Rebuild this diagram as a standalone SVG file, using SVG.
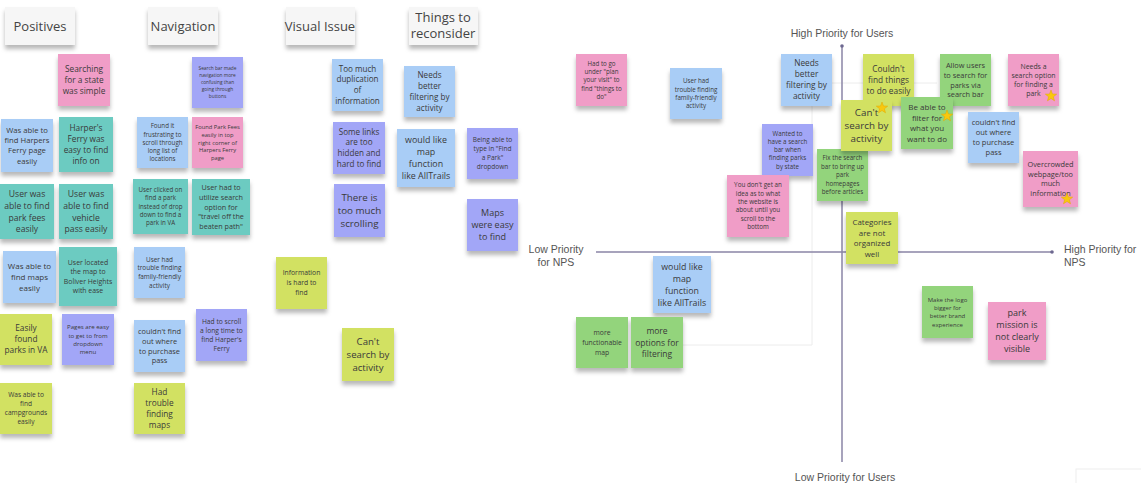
<svg xmlns="http://www.w3.org/2000/svg" xmlns:xlink="http://www.w3.org/1999/xlink" width="1141" height="483" viewBox="0 0 1141 483">
<defs>
<filter id="sh" x="-20%" y="-20%" width="140%" height="160%"><feDropShadow dx="0" dy="4" stdDeviation="2" flood-color="#000" flood-opacity="0.28"/></filter>
<path id="star" d="M0,-6 L1.47,-2.02 L5.71,-1.85 L2.38,0.77 L3.53,4.85 L0,2.5 L-3.53,4.85 L-2.38,0.77 L-5.71,-1.85 L-1.47,-2.02 Z"/>
<style>
.n{filter:url(#sh)}
.pk{fill:#f09dc7}.bl{fill:#a9cdf6}.tl{fill:#6ccbc1}.yg{fill:#d2e162}.pu{fill:#a2a6f7}.gr{fill:#93d47c}
.hd{fill:#f6f6f6;filter:url(#sh)}
.t{font-family:'Open Sans','DejaVu Sans',sans-serif;fill:#3a3a3a;text-anchor:middle}
.h{font-family:'Open Sans','DejaVu Sans',sans-serif;fill:#444;font-size:13px;text-anchor:middle}
.ax{font-family:'Liberation Sans',Arial,sans-serif;fill:#555;font-size:10.5px}
.axis{stroke:#8a85a6;stroke-width:1.5;fill:none}
.faint{stroke:#ececec;stroke-width:1;fill:none}
.st{fill:#f9c80e;stroke:#e0a800;stroke-width:0.5}
</style>
</defs>
<rect width="1141" height="483" fill="#ffffff"/>

<g id="frames">
<path class="faint" d="M812,83 L937,83 M812,83 L812,345 L683,345"/>
</g>

<g id="connectors">
<line class="axis" x1="842" y1="46" x2="842" y2="462"/>
<line class="axis" x1="596" y1="252" x2="1052" y2="252"/>
<circle cx="842" cy="46" r="1.8" fill="#6d6890"/>
<circle cx="1052" cy="252" r="1.8" fill="#6d6890"/>
</g>

<g id="labels">
<text class="ax" x="842" y="37" text-anchor="middle">High Priority for Users</text>
<text class="ax" x="845" y="481" text-anchor="middle">Low Priority for Users</text>
<text class="ax" x="556" y="253" text-anchor="middle">Low Priority</text>
<text class="ax" x="556" y="266" text-anchor="middle">for NPS</text>
<text class="ax" x="1064" y="253">High Priority for</text>
<text class="ax" x="1064" y="266">NPS</text>
</g>

<g id="hdr-positives"><rect class="hd" x="5" y="7" width="70" height="38"/><text class="h" x="40" y="31">Positives</text></g>
<g id="hdr-navigation"><rect class="hd" x="148" y="7" width="70" height="38"/><text class="h" x="183" y="31">Navigation</text></g>
<g id="hdr-visual"><rect class="hd" x="286" y="7" width="69" height="38"/><text class="h" x="320" y="31">Visual Issue</text></g>
<g id="hdr-things"><rect class="hd" x="409" y="7" width="69" height="38"/><text class="h" x="443" y="22">Things to</text><text class="h" x="443" y="38">reconsider</text></g>

<!-- Positives -->
<g id="p1" transform="translate(58,54)"><rect class="n pk" width="52" height="52"/><text class="t" font-size="8.3" y="18.2"><tspan x="26">Searching</tspan><tspan x="26" dy="11">for a state</tspan><tspan x="26" dy="11">was simple</tspan></text></g>
<g id="p2" transform="translate(1,119)"><rect class="n bl" width="52" height="53"/><text class="t" font-size="7.7" y="13.8"><tspan x="26">Was able to</tspan><tspan x="26" dy="10.3">find Harpers</tspan><tspan x="26" dy="10.3">Ferry page</tspan><tspan x="26" dy="10.3">easily</tspan></text></g>
<g id="p3" transform="translate(59,117)"><rect class="n tl" width="54" height="55"/><text class="t" font-size="8.3" y="14.2"><tspan x="27">Harper's</tspan><tspan x="27" dy="11">Ferry was</tspan><tspan x="27" dy="11">easy to find</tspan><tspan x="27" dy="11">info on</tspan></text></g>
<g id="p4" transform="translate(0,184)"><rect class="n tl" width="54" height="55"/><text class="t" font-size="8.6" y="13.2"><tspan x="27">User was</tspan><tspan x="27" dy="11.7">able to find</tspan><tspan x="27" dy="11.7">park fees</tspan><tspan x="27" dy="11.7">easily</tspan></text></g>
<g id="p5" transform="translate(59,184)"><rect class="n tl" width="54" height="55"/><text class="t" font-size="8.6" y="13.2"><tspan x="27">User was</tspan><tspan x="27" dy="11.7">able to find</tspan><tspan x="27" dy="11.7">vehicle</tspan><tspan x="27" dy="11.7">pass easily</tspan></text></g>
<g id="p6" transform="translate(3,251)"><rect class="n bl" width="53" height="52"/><text class="t" font-size="8" y="18.2"><tspan x="26.5">Was able to</tspan><tspan x="26.5" dy="10.7">find maps</tspan><tspan x="26.5" dy="10.7">easily</tspan></text></g>
<g id="p7" transform="translate(59,247)"><rect class="n tl" width="58" height="59"/><text class="t" font-size="6.9" y="18.2"><tspan x="29">User located</tspan><tspan x="29" dy="9.2">the map to</tspan><tspan x="29" dy="9.2">Boliver Heights</tspan><tspan x="29" dy="9.2">with ease</tspan></text></g>
<g id="p8" transform="translate(0,314)"><rect class="n yg" width="52" height="51"/><text class="t" font-size="8.3" y="17.4"><tspan x="26">Easily</tspan><tspan x="26" dy="11">found</tspan><tspan x="26" dy="11">parks in VA</tspan></text></g>
<g id="p9" transform="translate(62,314)"><rect class="n pu" width="52" height="51"/><text class="t" font-size="6.1" y="15.2"><tspan x="26">Pages are easy</tspan><tspan x="26" dy="8.3">to get to from</tspan><tspan x="26" dy="8.3">dropdown</tspan><tspan x="26" dy="8.3">menu</tspan></text></g>
<g id="p10" transform="translate(0,383)"><rect class="n yg" width="52" height="51"/><text class="t" font-size="6.6" y="14.3"><tspan x="26">Was able to</tspan><tspan x="26" dy="9">find</tspan><tspan x="26" dy="9">campgrounds</tspan><tspan x="26" dy="9">easily</tspan></text></g>

<!-- Navigation -->
<g id="n1" transform="translate(192,57)"><rect class="n pu" width="51" height="51"/><text class="t" font-size="4.8" y="13.4"><tspan x="25.5">Search bar made</tspan><tspan x="25.5" dy="6.9">navigation more</tspan><tspan x="25.5" dy="6.9">confusing than</tspan><tspan x="25.5" dy="6.9">going through</tspan><tspan x="25.5" dy="6.9">buttons</tspan></text></g>
<g id="n2" transform="translate(137,117)"><rect class="n bl" width="51" height="51"/><text class="t" font-size="6.2" y="11.3"><tspan x="25.5">Found it</tspan><tspan x="25.5" dy="8.2">frustrating to</tspan><tspan x="25.5" dy="8.2">scroll through</tspan><tspan x="25.5" dy="8.2">long list of</tspan><tspan x="25.5" dy="8.2">locations</tspan></text></g>
<g id="n3" transform="translate(192,117)"><rect class="n pk" width="51" height="51"/><text class="t" font-size="5.8" y="12.1"><tspan x="25.5">Found Park Fees</tspan><tspan x="25.5" dy="7.7">easily in top</tspan><tspan x="25.5" dy="7.7">right corner of</tspan><tspan x="25.5" dy="7.7">Harpers Ferry</tspan><tspan x="25.5" dy="7.7">page</tspan></text></g>
<g id="n4" transform="translate(133,179)"><rect class="n tl" width="55" height="55"/><text class="t" font-size="6.2" y="13.1"><tspan x="27.5">User clicked on</tspan><tspan x="27.5" dy="8.3">find a park</tspan><tspan x="27.5" dy="8.3">instead of drop</tspan><tspan x="27.5" dy="8.3">down to find a</tspan><tspan x="27.5" dy="8.3">park in VA</tspan></text></g>
<g id="n5" transform="translate(192,179)"><rect class="n tl" width="58" height="56"/><text class="t" font-size="7.2" y="11.1"><tspan x="29">User had to</tspan><tspan x="29" dy="9.7">utilize search</tspan><tspan x="29" dy="9.7">option for</tspan><tspan x="29" dy="9.7">"travel off the</tspan><tspan x="29" dy="9.7">beaten path"</tspan></text></g>
<g id="n6" transform="translate(134,247)"><rect class="n bl" width="51" height="51"/><text class="t" font-size="6.4" y="14.8"><tspan x="25.5">User had</tspan><tspan x="25.5" dy="8.6">trouble finding</tspan><tspan x="25.5" dy="8.6">family-friendly</tspan><tspan x="25.5" dy="8.6">activity</tspan></text></g>
<g id="n7" transform="translate(134,320)"><rect class="n bl" width="51" height="52"/><text class="t" font-size="7.4" y="13.9"><tspan x="25.5">couldn't find</tspan><tspan x="25.5" dy="9.8">out where</tspan><tspan x="25.5" dy="9.8">to purchase</tspan><tspan x="25.5" dy="9.8">pass</tspan></text></g>
<g id="n8" transform="translate(196,309)"><rect class="n pu" width="51" height="52"/><text class="t" font-size="6.7" y="14.9"><tspan x="25.5">Had to scroll</tspan><tspan x="25.5" dy="9">a long time to</tspan><tspan x="25.5" dy="9">find Harper's</tspan><tspan x="25.5" dy="9">Ferry</tspan></text></g>
<g id="n9" transform="translate(134,383)"><rect class="n yg" width="51" height="51"/><text class="t" font-size="8.3" y="11.8"><tspan x="25.5">Had</tspan><tspan x="25.5" dy="11.1">trouble</tspan><tspan x="25.5" dy="11.1">finding</tspan><tspan x="25.5" dy="11.1">maps</tspan></text></g>

<!-- Visual Issue -->
<g id="v1" transform="translate(332,59)"><rect class="n bl" width="51" height="52"/><text class="t" font-size="8.1" y="12.6"><tspan x="25.5">Too much</tspan><tspan x="25.5" dy="10.8">duplication</tspan><tspan x="25.5" dy="10.8">of</tspan><tspan x="25.5" dy="10.8">information</tspan></text></g>
<g id="v2" transform="translate(333,122)"><rect class="n pu" width="52" height="52"/><text class="t" font-size="8.1" y="12.6"><tspan x="26">Some links</tspan><tspan x="26" dy="10.8">are too</tspan><tspan x="26" dy="10.8">hidden and</tspan><tspan x="26" dy="10.8">hard to find</tspan></text></g>
<g id="v3" transform="translate(334,184)"><rect class="n pu" width="51" height="53"/><text class="t" font-size="9.8" y="16.9"><tspan x="25.5">There is</tspan><tspan x="25.5" dy="13">too much</tspan><tspan x="25.5" dy="13">scrolling</tspan></text></g>
<g id="v4" transform="translate(276,257)"><rect class="n yg" width="51" height="52"/><text class="t" font-size="6.8" y="18.4"><tspan x="25.5">Information</tspan><tspan x="25.5" dy="10">is hard to</tspan><tspan x="25.5" dy="10">find</tspan></text></g>
<g id="v5" transform="translate(342,328)"><rect class="n yg" width="52" height="53"/><text class="t" font-size="9.6" y="17.1"><tspan x="26">Can't</tspan><tspan x="26" dy="12.8">search by</tspan><tspan x="26" dy="12.8">activity</tspan></text></g>

<!-- Things to reconsider -->
<g id="t1" transform="translate(404,66)"><rect class="n bl" width="51" height="51"/><text class="t" font-size="8.1" y="12.1"><tspan x="25.5">Needs</tspan><tspan x="25.5" dy="10.8">better</tspan><tspan x="25.5" dy="10.8">filtering by</tspan><tspan x="25.5" dy="10.8">activity</tspan></text></g>
<g id="t2" transform="translate(397,129)"><rect class="n bl" width="58" height="58"/><text class="t" font-size="8.9" y="14.4"><tspan x="29">would like</tspan><tspan x="29" dy="11.8">map</tspan><tspan x="29" dy="11.8">function</tspan><tspan x="29" dy="11.8">like AllTrails</tspan></text></g>
<g id="t3" transform="translate(467,128)"><rect class="n pu" width="51" height="51"/><text class="t" font-size="6.5" y="14.3"><tspan x="25.5">Being able to</tspan><tspan x="25.5" dy="9">type in "Find</tspan><tspan x="25.5" dy="9">a Park"</tspan><tspan x="25.5" dy="9">dropdown</tspan></text></g>
<g id="t4" transform="translate(467,199)"><rect class="n pu" width="51" height="52"/><text class="t" font-size="9" y="17.2"><tspan x="25.5">Maps</tspan><tspan x="25.5" dy="12">were easy</tspan><tspan x="25.5" dy="12">to find</tspan></text></g>

<!-- Matrix -->
<g id="m1" transform="translate(576,54)"><rect class="n pk" width="51" height="52"/><text class="t" font-size="6.2" y="11.6"><tspan x="25.5">Had to go</tspan><tspan x="25.5" dy="8.3">under "plan</tspan><tspan x="25.5" dy="8.3">your visit" to</tspan><tspan x="25.5" dy="8.3">find "things to</tspan><tspan x="25.5" dy="8.3">do"</tspan></text></g>
<g id="m2" transform="translate(670,68)"><rect class="n bl" width="52" height="51"/><text class="t" font-size="6.2" y="15.4"><tspan x="26">User had</tspan><tspan x="26" dy="8.2">trouble finding</tspan><tspan x="26" dy="8.2">family-friendly</tspan><tspan x="26" dy="8.2">activity</tspan></text></g>
<g id="m3" transform="translate(781,54)"><rect class="n bl" width="51" height="52"/><text class="t" font-size="8.3" y="12.4"><tspan x="25.5">Needs</tspan><tspan x="25.5" dy="11">better</tspan><tspan x="25.5" dy="11">filtering by</tspan><tspan x="25.5" dy="11">activity</tspan></text></g>
<g id="m4" transform="translate(762,124)"><rect class="n pu" width="51" height="52"/><text class="t" font-size="6.2" y="11.8"><tspan x="25.5">Wanted to</tspan><tspan x="25.5" dy="8.2">have a search</tspan><tspan x="25.5" dy="8.2">bar when</tspan><tspan x="25.5" dy="8.2">finding parks</tspan><tspan x="25.5" dy="8.2">by state</tspan></text></g>
<g id="m5" transform="translate(727,175)"><rect class="n pk" width="62" height="62"/><text class="t" font-size="6.3" y="12.2"><tspan x="31">You don't get an</tspan><tspan x="31" dy="8.4">idea as to what</tspan><tspan x="31" dy="8.4">the website is</tspan><tspan x="31" dy="8.4">about until you</tspan><tspan x="31" dy="8.4">scroll to the</tspan><tspan x="31" dy="8.4">bottom</tspan></text></g>
<g id="m6" transform="translate(817,149)"><rect class="n gr" width="51" height="52"/><text class="t" font-size="6.2" y="11.4"><tspan x="25.5">Fix the search</tspan><tspan x="25.5" dy="8.4">bar to bring up</tspan><tspan x="25.5" dy="8.4">park</tspan><tspan x="25.5" dy="8.4">homepages</tspan><tspan x="25.5" dy="8.4">before articles</tspan></text></g>
<g id="m7" transform="translate(863,54)"><rect class="n yg" width="51" height="52"/><text class="t" font-size="8.3" y="17.9"><tspan x="25.5">Couldn't</tspan><tspan x="25.5" dy="11">find things</tspan><tspan x="25.5" dy="11">to do easily</tspan></text></g>
<g id="m8" transform="translate(841,100)"><rect class="n yg" width="51" height="51"/><text class="t" font-size="9.8" y="15.9"><tspan x="25.5">Can't</tspan><tspan x="25.5" dy="13">search by</tspan><tspan x="25.5" dy="13">activity</tspan></text><use href="#star" xlink:href="#star" class="st" x="41" y="8"/></g>
<g id="m9" transform="translate(940,54)"><rect class="n gr" width="51" height="52"/><text class="t" font-size="7.4" y="13.9"><tspan x="25.5">Allow users</tspan><tspan x="25.5" dy="9.8">to search for</tspan><tspan x="25.5" dy="9.8">parks via</tspan><tspan x="25.5" dy="9.8">search bar</tspan></text></g>
<g id="m10" transform="translate(901,97)"><rect class="n gr" width="52" height="52"/><text class="t" font-size="8" y="12.8"><tspan x="26">Be able to</tspan><tspan x="26" dy="10.7">filter for</tspan><tspan x="26" dy="10.7">what you</tspan><tspan x="26" dy="10.7">want to do</tspan></text><use href="#star" xlink:href="#star" class="st" x="46" y="19"/></g>
<g id="m11" transform="translate(1008,54)"><rect class="n pk" width="51" height="52"/><text class="t" font-size="6.9" y="14.6"><tspan x="25.5">Needs a</tspan><tspan x="25.5" dy="9.2">search option</tspan><tspan x="25.5" dy="9.2">for finding a</tspan><tspan x="25.5" dy="9.2">park</tspan></text><use href="#star" xlink:href="#star" class="st" x="43" y="42"/></g>
<g id="m12" transform="translate(968,112)"><rect class="n bl" width="51" height="51"/><text class="t" font-size="7.5" y="13.1"><tspan x="25.5">couldn't find</tspan><tspan x="25.5" dy="10">out where</tspan><tspan x="25.5" dy="10">to purchase</tspan><tspan x="25.5" dy="10">pass</tspan></text></g>
<g id="m13" transform="translate(1023,151)"><rect class="n pk" width="55" height="56"/><text class="t" font-size="7.3" y="16"><tspan x="27.5">Overcrowded</tspan><tspan x="27.5" dy="9.7">webpage/too</tspan><tspan x="27.5" dy="9.7">much</tspan><tspan x="27.5" dy="9.7">information</tspan></text><use href="#star" xlink:href="#star" class="st" x="44" y="48"/></g>
<g id="m14" transform="translate(846,212)"><rect class="n yg" width="52" height="52"/><text class="t" font-size="7.9" y="13"><tspan x="26">Categories</tspan><tspan x="26" dy="10.5">are not</tspan><tspan x="26" dy="10.5">organized</tspan><tspan x="26" dy="10.5">well</tspan></text></g>
<g id="m15" transform="translate(653,256)"><rect class="n bl" width="58" height="57"/><text class="t" font-size="8.8" y="13.6"><tspan x="29">would like</tspan><tspan x="29" dy="12">map</tspan><tspan x="29" dy="12">function</tspan><tspan x="29" dy="12">like AllTrails</tspan></text></g>
<g id="m16" transform="translate(576,317)"><rect class="n gr" width="52" height="51"/><text class="t" font-size="6.8" y="17.9"><tspan x="26">more</tspan><tspan x="26" dy="10">functionable</tspan><tspan x="26" dy="10">map</tspan></text></g>
<g id="m17" transform="translate(631,317)"><rect class="n gr" width="52" height="51"/><text class="t" font-size="8.5" y="17.2"><tspan x="26">more</tspan><tspan x="26" dy="11.3">options for</tspan><tspan x="26" dy="11.3">filtering</tspan></text></g>
<g id="m18" transform="translate(922,286)"><rect class="n gr" width="51" height="52"/><text class="t" font-size="6" y="15.5"><tspan x="25.5">Make the logo</tspan><tspan x="25.5" dy="8.4">bigger for</tspan><tspan x="25.5" dy="8.4">better brand</tspan><tspan x="25.5" dy="8.4">experience</tspan></text></g>
<g id="m19" transform="translate(988,302)"><rect class="n pk" width="58" height="58"/><text class="t" font-size="9" y="14.2"><tspan x="29">park</tspan><tspan x="29" dy="12">mission is</tspan><tspan x="29" dy="12">not clearly</tspan><tspan x="29" dy="12">visible</tspan></text></g>

<g id="corner-panel"><rect x="1076" y="469" width="70" height="20" fill="#ffffff" stroke="#eeeeee" stroke-width="1"/></g>
</svg>
